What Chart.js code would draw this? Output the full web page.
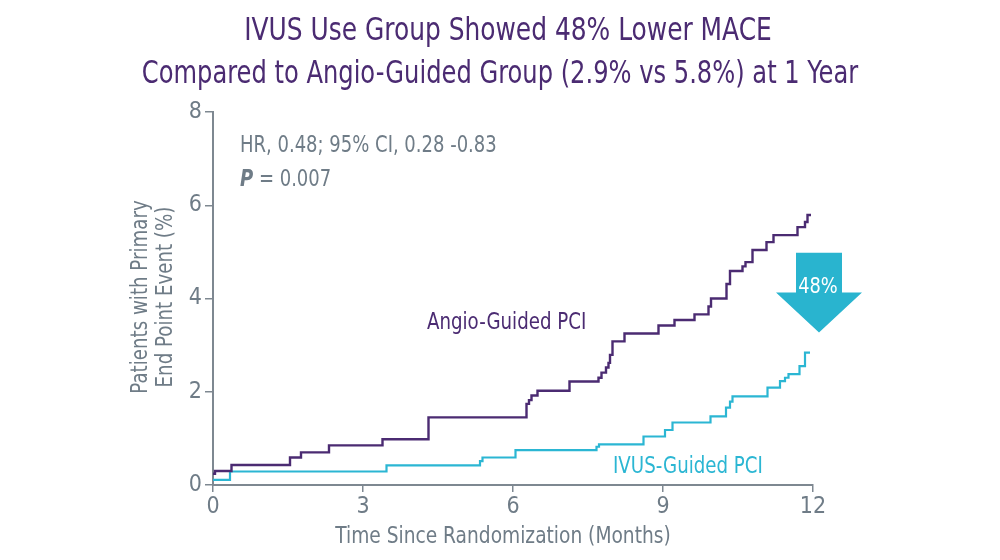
<!DOCTYPE html>
<html>
<head>
<meta charset="utf-8">
<script src="https://cdn.jsdelivr.net/npm/chart.js@4"></script>
<style>
  html, body { margin: 0; padding: 0; background: #ffffff; }
  #wrap { width: 1000px; height: 560px; position: relative; }
</style>
</head>
<body>
<div id="wrap"><canvas id="c" width="1000" height="560"></canvas></div>
<script>
// ---- data ----
const titleLines = ["IVUS Use Group Showed 48% Lower MACE", "Compared to Angio-Guided Group (2.9% vs 5.8%) at 1 Year"];
const xTitle = "Time Since Randomization (Months)";
const yTitleLines = ["Patients with Primary", "End Point Event (%)"];
const xTicks = [0, 3, 6, 9, 12];
const yTicks = [0, 2, 4, 6, 8];

const angioMonths = [0, 0.04, 0.37, 1.54, 1.76, 2.32, 3.39, 4.31, 6.27, 6.32, 6.37, 6.49, 7.13, 7.71, 7.77, 7.86, 7.91, 7.94, 7.99, 8.23, 8.91, 9.23, 9.63, 9.91, 9.96, 10.27, 10.34, 10.59, 10.65, 10.79, 11.07, 11.21, 11.69, 11.84, 11.89, 11.96];
const angioRates  = [0.24, 0.30, 0.43, 0.59, 0.70, 0.85, 0.98, 1.45, 1.74, 1.82, 1.92, 2.02, 2.22, 2.30, 2.41, 2.52, 2.62, 2.79, 3.08, 3.25, 3.42, 3.54, 3.66, 3.83, 4.00, 4.31, 4.59, 4.69, 4.78, 5.04, 5.21, 5.36, 5.53, 5.64, 5.79, 5.79];

const ivusMonths = [0, 0.34, 3.47, 5.34, 5.39, 6.05, 7.67, 7.72, 8.61, 9.04, 9.19, 9.95, 10.26, 10.34, 10.39, 11.09, 11.34, 11.44, 11.51, 11.73, 11.84, 11.94];
const ivusRates  = [0.11, 0.29, 0.42, 0.51, 0.59, 0.75, 0.82, 0.87, 1.04, 1.18, 1.34, 1.47, 1.66, 1.79, 1.90, 2.09, 2.23, 2.30, 2.38, 2.55, 2.84, 2.84];

const seriesNames = ["Angio-Guided PCI", "IVUS-Guided PCI"];
const hrText = "HR, 0.48; 95% CI, 0.28 -0.83";
const pLabel = "P";
const pText = " = 0.007";
const reductionText = "48%";

// ---- styles ----
const PURPLE = "#4b2b72";
const CYAN = "#2bb6d3";
const GREY = "#6f7c87";
const AXIS = "#7e8891";
const FONT = "'DejaVu Sans Condensed', 'DejaVu Sans', sans-serif";
const SQUEEZE = 0.87;   // horizontal condensing to mimic the narrow original typeface

function drawText(ctx, str, x, y, align, font, color, sx) {
  ctx.save();
  ctx.font = font;
  ctx.fillStyle = color;
  ctx.textAlign = align;
  ctx.textBaseline = 'alphabetic';
  ctx.translate(x, y);
  ctx.scale(sx, 1);
  ctx.fillText(str, 0, 0);
  const w = ctx.measureText(str).width * sx;
  ctx.restore();
  return w;
}

const toPts = (xs, ys) => xs.map((x, i) => ({ x: x, y: ys[i] }));

const overlay = {
  id: 'overlay',
  afterDraw(chart) {
    const ctx = chart.ctx;
    const xs = chart.scales.x, ys = chart.scales.y;
    // titles
    drawText(ctx, titleLines[0], 508, 40, 'center', "32px " + FONT, PURPLE, 0.865);
    drawText(ctx, titleLines[1], 500, 83, 'center', "32px " + FONT, PURPLE, 0.84);

    // axis titles
    drawText(ctx, xTitle, 503, 543, 'center', "23px " + FONT, GREY, 0.9);
    ctx.save();
    ctx.translate(147, 297);
    ctx.rotate(-Math.PI / 2);
    drawText(ctx, yTitleLines[0], 0, 0, 'center', "23px " + FONT, GREY, 0.88);
    ctx.restore();
    ctx.save();
    ctx.translate(172, 297);
    ctx.rotate(-Math.PI / 2);
    drawText(ctx, yTitleLines[1], 0, 0, 'center', "23px " + FONT, GREY, 0.88);
    ctx.restore();

    // stats annotation
    drawText(ctx, hrText, 240, 152, 'left', "23px " + FONT, GREY, SQUEEZE);
    const pw = drawText(ctx, pLabel, 240, 186, 'left', "italic bold 23px " + FONT, GREY, SQUEEZE);
    drawText(ctx, pText, 240 + pw, 186, 'left', "23px " + FONT, GREY, SQUEEZE);

    // series labels
    drawText(ctx, seriesNames[0], 427, 329, 'left', "23px " + FONT, PURPLE, 0.88);
    drawText(ctx, seriesNames[1], 613, 473, 'left', "23px " + FONT, CYAN, 0.88);

    // reduction arrow (positioned via scales)
    const cx = xs.getPixelForValue(12.12);
    const yTop = ys.getPixelForValue(4.98);
    const yShoulder = ys.getPixelForValue(4.13);
    const yTip = ys.getPixelForValue(3.27);
    ctx.save();
    ctx.fillStyle = "#29b4cf";
    ctx.beginPath();
    ctx.moveTo(cx - 23, yTop);
    ctx.lineTo(cx + 23, yTop);
    ctx.lineTo(cx + 23, yShoulder);
    ctx.lineTo(cx + 43, yShoulder);
    ctx.lineTo(cx, yTip);
    ctx.lineTo(cx - 43, yShoulder);
    ctx.lineTo(cx - 23, yShoulder);
    ctx.closePath();
    ctx.fill();
    ctx.restore();
    drawText(ctx, reductionText, cx - 1, yShoulder + 1, 'center', "22px " + FONT, "#ffffff", 0.9);
  }
};

new Chart(document.getElementById('c'), {
  type: 'line',
  data: {
    datasets: [
      { label: seriesNames[0], data: toPts(angioMonths, angioRates), borderColor: PURPLE, borderWidth: 2.4, stepped: 'before', pointRadius: 0, fill: false },
      { label: seriesNames[1], data: toPts(ivusMonths, ivusRates), borderColor: CYAN, borderWidth: 2.2, stepped: 'before', pointRadius: 0, fill: false }
    ]
  },
  options: {
    responsive: false,
    animation: false,
    devicePixelRatio: 1,
    layout: { padding: { top: 112, right: 187, left: 0, bottom: 0 } },
    plugins: { legend: { display: false }, tooltip: { enabled: false }, title: { display: false } },
    scales: {
      x: {
        type: 'linear', min: 0, max: 12,
        afterBuildTicks: (s) => { s.ticks = xTicks.map(v => ({ value: v })); },
        afterFit: (s) => { s.height = 75; },
        grid: { drawOnChartArea: false, drawTicks: true, tickLength: 7, color: AXIS, lineWidth: 1.5 },
        border: { display: true, color: AXIS, width: 2 },
        ticks: { color: GREY, font: { family: FONT, size: 23 }, padding: 1 }
      },
      y: {
        type: 'linear', min: 0, max: 8,
        afterBuildTicks: (s) => { s.ticks = yTicks.map(v => ({ value: v })); },
        afterFit: (s) => { s.width = 213; },
        grid: { drawOnChartArea: false, drawTicks: true, tickLength: 8, color: AXIS, lineWidth: 1.5 },
        border: { display: true, color: AXIS, width: 2 },
        ticks: { color: GREY, font: { family: FONT, size: 23 }, padding: 3 }
      }
    }
  },
  plugins: [overlay]
});
</script>
</body>
</html>
